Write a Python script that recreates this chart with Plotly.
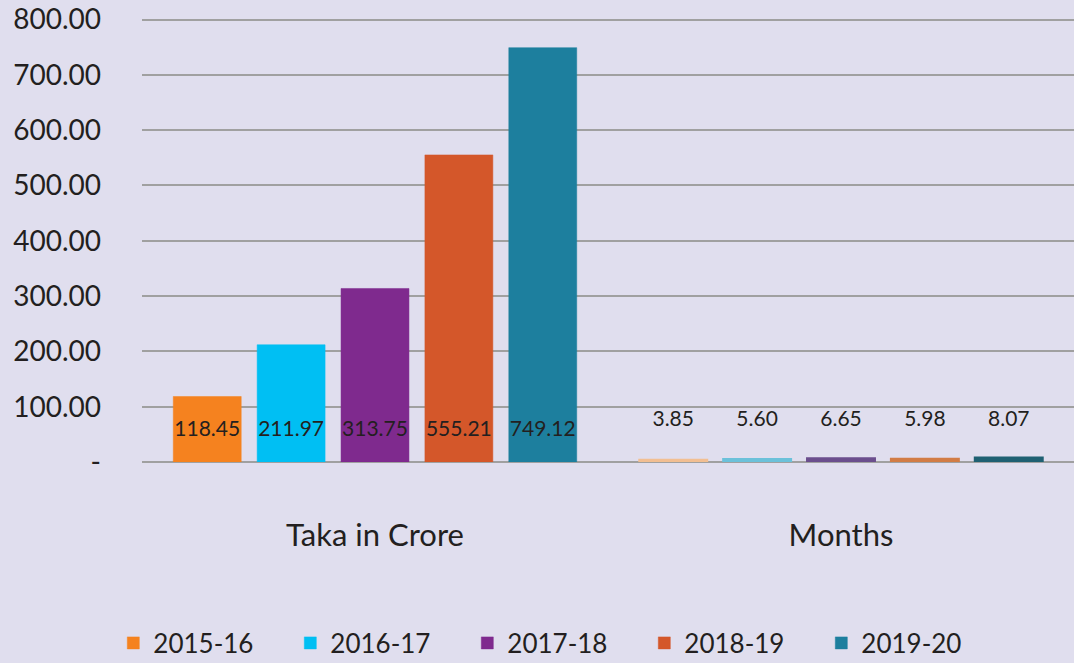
import plotly.graph_objects as go

categories = ["Taka in Crore", "Months"]
years = ["2015-16", "2016-17", "2017-18", "2018-19", "2019-20"]
taka = [118.45, 211.97, 313.75, 555.21, 749.12]
months = [3.85, 5.60, 6.65, 5.98, 8.07]
main_colors = ["#f5821f", "#00bff3", "#7f2a8e", "#d4572a", "#1d7f9e"]
month_colors = ["#f2bf92", "#6cc1da", "#6b4e8d", "#d27c45", "#1f6072"]
label_y = [57, 75]
tick_vals = [0, 100, 200, 300, 400, 500, 600, 700, 800]
tick_text = ["-", "100.00", "200.00", "300.00", "400.00", "500.00", "600.00", "700.00", "800.00"]

FONT = "Lato, 'Open Sans', sans-serif"
fig = go.Figure()
for i, yr in enumerate(years):
    fig.add_trace(go.Bar(
        x=categories, y=[taka[i], months[i]], name=yr,
        offsetgroup=str(i),
        marker=dict(color=[main_colors[i], month_colors[i]],
                    line=dict(color=[main_colors[i], month_colors[i]], width=[0.5, 2])),
        hoverinfo="skip",
    ))
for i, yr in enumerate(years):
    fig.add_trace(go.Scatter(
        x=categories, y=label_y, mode="text",
        text=[f"{taka[i]:.2f}", f"{months[i]:.2f}"],
        textfont=dict(size=21, color="#231f20", family=FONT),
        offsetgroup=str(i), showlegend=False, hoverinfo="skip",
    ))

fig.update_layout(
    width=1074, height=663,
    paper_bgcolor="#e0deee", plot_bgcolor="#e0deee",
    margin=dict(l=142, r=0, t=14, b=201, autoexpand=False),
    barmode="group", bargap=0.10, bargroupgap=0.19,
    scattermode="group", scattergap=0.10,
    font=dict(family=FONT, color="#231f20"),
    legend=dict(orientation="h", x=0.444, xanchor="center",
                y=-0.404, yanchor="middle", font=dict(size=26),
                entrywidth=132, entrywidthmode="pixels",
                traceorder="normal"),
    showlegend=True,
)
fig.update_yaxes(range=[0, 810], tickvals=tick_vals, ticktext=tick_text,
                 showgrid=True, gridcolor="#a0a0a0", gridwidth=2,
                 zeroline=True, zerolinecolor="#a0a0a0", zerolinewidth=2,
                 tickfont=dict(size=28), ticklabelstandoff=40, showline=False)
fig.update_xaxes(tickfont=dict(size=31), ticklabelstandoff=52, showgrid=False, showline=False)

fig.write_html("out.html")
